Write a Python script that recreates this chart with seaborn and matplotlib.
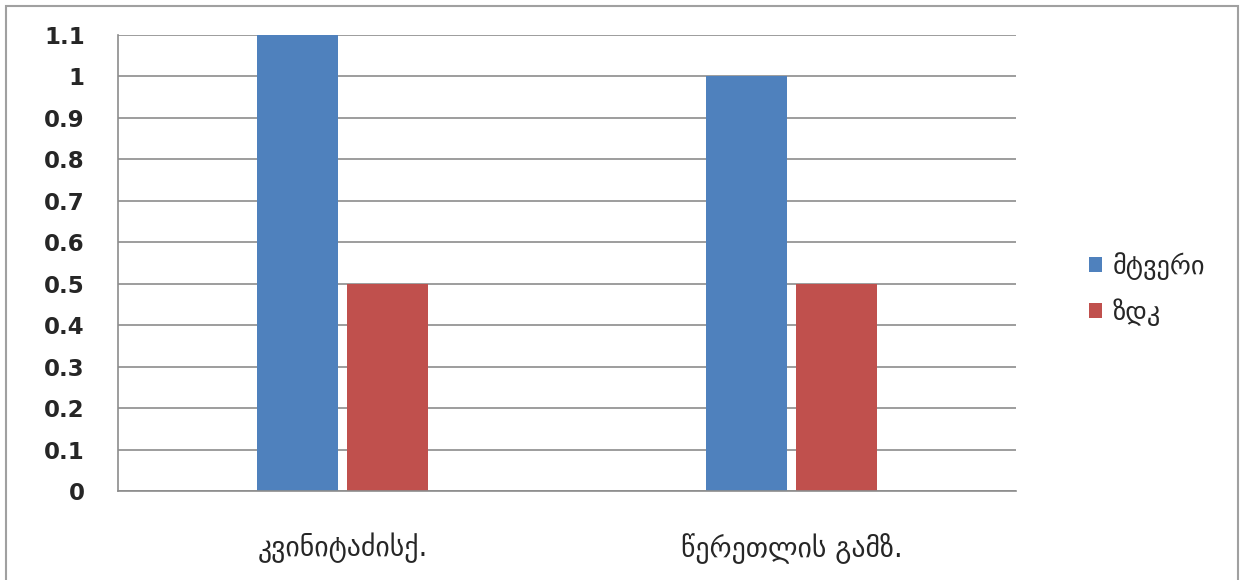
import matplotlib
matplotlib.use("Agg")
import matplotlib.pyplot as plt
import seaborn as sns
import pandas as pd
from matplotlib.patches import Rectangle

categories = ["კვინიტაძისქ.", "წერეთლის გამზ."]
series_names = ["მტვერი", "ზდკ"]
dust_values = [1.1, 1.0]
zdk_values = [0.5, 0.5]
ytick_values = [0, 0.1, 0.2, 0.3, 0.4, 0.5, 0.6, 0.7, 0.8, 0.9, 1.0, 1.1]
ytick_labels = ["0", "0.1", "0.2", "0.3", "0.4", "0.5", "0.6", "0.7", "0.8", "0.9", "1", "1.1"]
colors = ["#4F81BD", "#C0504D"]

df = pd.DataFrame({
    "category": categories * 2,
    "series": [series_names[0]] * 2 + [series_names[1]] * 2,
    "value": dust_values + zdk_values,
})

sns.set_style("white")
plt.rcParams["font.family"] = ["DejaVu Sans"]

fig = plt.figure(figsize=(12.42, 5.8), dpi=100)
ax = fig.add_axes([118 / 1242, 1 - 491 / 580, (1016 - 118) / 1242, (491 - 35) / 580])

sns.barplot(data=df, x="category", y="value", hue="series", order=categories,
            hue_order=series_names, palette=colors, width=0.4, gap=0.1,
            saturation=1, ax=ax, legend=True)

grid_c = "#8C8C8C"
ax.set_xlim(-0.5, 1.5)
ax.set_ylim(0, 1.1)
ax.set_yticks(ytick_values)
ax.set_yticklabels(ytick_labels, fontsize=16.5, fontweight="bold")
ax.yaxis.grid(True, color=grid_c, linewidth=1.2)
ax.set_axisbelow(True)
ax.set_xlabel("")
ax.set_ylabel("")
for s in ["top", "right"]:
    ax.spines[s].set_visible(False)
for s in ["left", "bottom"]:
    ax.spines[s].set_color(grid_c)
    ax.spines[s].set_linewidth(1.2)

ax.set_xticks([-0.5, 0.5, 1.5], minor=False)
ax.set_xticklabels([])
ax.set_xticks([0, 1], minor=True)
ax.set_xticklabels(categories, minor=True, fontsize=20)
ax.tick_params(axis="x", which="major", direction="out", length=8, color=grid_c, width=1.2)
ax.tick_params(axis="x", which="minor", length=0, pad=30)
ax.tick_params(axis="y", direction="out", length=8, color=grid_c, width=1.2, pad=16)

for p in ax.patches:
    p.set_edgecolor("none")

leg = ax.legend(loc="center left", bbox_to_anchor=(1.055, 0.443), frameon=False,
                fontsize=19, handlelength=0.5, handleheight=0.5,
                handletextpad=0.4, labelspacing=0.7)

fig.patches.append(Rectangle((6 / 1242, -0.05), (1238 - 6) / 1242, 1.05 - 6 / 580,
                             transform=fig.transFigure, fill=False,
                             edgecolor="#A0A0A0", linewidth=1.5))

fig.savefig("out.png", dpi=100, facecolor="white")
